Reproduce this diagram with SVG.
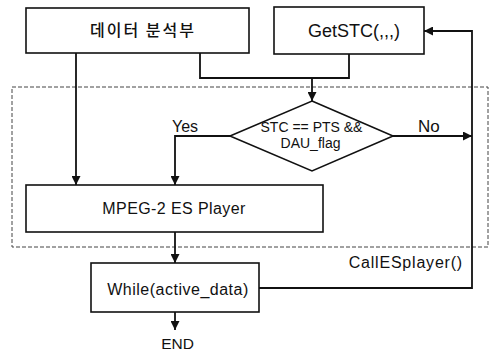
<svg xmlns="http://www.w3.org/2000/svg" width="492" height="353" viewBox="0 0 492 353">
<style>
.box{fill:#fff;stroke:#111;stroke-width:1.6}
.ln{fill:none;stroke:#111;stroke-width:1.8}
.dash{fill:none;stroke:#444;stroke-width:1;stroke-dasharray:4 2}
text{font-family:"Liberation Sans",Arial,sans-serif;fill:#111}
.c{text-anchor:middle}
</style>
<defs>
<marker id="ah" viewBox="0 0 10 10" refX="10" refY="5" markerWidth="9" markerHeight="9" markerUnits="userSpaceOnUse" orient="auto">
<path d="M0,0 L10,5 L0,10 z" fill="#111"/>
</marker>
</defs>
<rect class="dash" x="12" y="87" width="476" height="160"/>
<g id="connectors">
<path class="ln" d="M76,53 V185" marker-end="url(#ah)"/>
<path class="ln" d="M200,53 V78 H349 V54"/>
<path class="ln" d="M312,78 V101" marker-end="url(#ah)"/>
<path class="ln" d="M230,136 H175 V185" marker-end="url(#ah)"/>
<path class="ln" d="M393,136 H472" marker-end="url(#ah)"/>
<path class="ln" d="M259,288 H472 V31 H424" marker-end="url(#ah)"/>
<path class="ln" d="M175,232 V263" marker-end="url(#ah)"/>
<path class="ln" d="M175,312 V330" marker-end="url(#ah)"/>
<text x="172" y="132" font-size="16">Yes</text>
<text x="418" y="132" font-size="17">No</text>
<text x="463" y="268" font-size="16" text-anchor="end" letter-spacing="0.8">CallESplayer()</text>
</g>
<g id="n1">
<rect class="box" x="26" y="8" width="223" height="45"/>
<text class="c" x="143" y="36" font-size="16" letter-spacing="2" font-weight="500" style="font-family:'Noto Sans CJK KR','Liberation Sans',sans-serif">데이터 분석부</text>
</g>
<g id="n2">
<rect class="box" x="274" y="7" width="150" height="47"/>
<text class="c" x="354" y="37" font-size="18">GetSTC(,,,)</text>
</g>
<g id="n3">
<path class="box" d="M312,101 L393,136 L312,171 L230,136 Z"/>
<text class="c" x="311.5" y="132" font-size="14">STC == PTS &amp;&amp;</text>
<text class="c" x="310.5" y="148" font-size="14">DAU_flag</text>
</g>
<g id="n4">
<rect class="box" x="26" y="185" width="297" height="47"/>
<text class="c" x="174" y="214" font-size="16" letter-spacing="0.4">MPEG-2 ES Player</text>
</g>
<g id="n5">
<rect class="box" x="91" y="263" width="168" height="49"/>
<text class="c" x="178" y="295" font-size="16" letter-spacing="0.5">While(active_data)</text>
</g>
<g id="n6">
<text class="c" x="177.5" y="349" font-size="15.5">END</text>
</g>
</svg>
